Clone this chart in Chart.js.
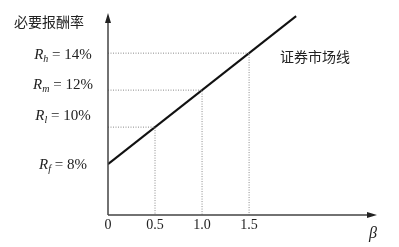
<!DOCTYPE html>
<html lang="zh">
<head>
<meta charset="UTF-8">
<title>证券市场线</title>
<script src="https://cdn.jsdelivr.net/npm/chart.js@4/dist/chart.umd.min.js"></script>
<style>
  body { margin: 0; background: #fff; }
  #caixa { width: 399px; height: 247px; }
</style>
</head>
<body>
<div id="caixa"><canvas id="grafico"></canvas></div>
<script>
// dados
const betas = [0.5, 1.0, 1.5];
const retornos = [10, 12, 14];
const linhaBeta = [0, 2];
const linhaRetorno = [8, 16];
const xTicks = [0, 0.5, 1.0, 1.5];
const xTickLabels = ['0', '0.5', '1.0', '1.5'];
const yLabelValores = [14, 12, 10, 8];
const yLabelSub = ['h', 'm', 'l', 'f'];
const yLabelTexto = ['= 14%', '= 12%', '= 10%', '= 8%'];

const X_MIN = 0, X_MAX = 2.86, Y_MIN = 5.25, Y_MAX = 16.17;
const serif = '"Liberation Serif", "Times New Roman", serif';
const cjk = '"Noto Sans CJK SC", sans-serif';

// guias pontilhadas: do eixo y ate a linha e da linha ate o eixo x
const guias = betas.map(function (b, i) {
    return {
        data: [{ x: 0, y: retornos[i] }, { x: b, y: retornos[i] }, { x: b, y: Y_MIN }],
        borderColor: '#8a8a8a',
        borderWidth: 1,
        borderDash: [1, 1.5],
        pointRadius: 0,
        fill: false
    };
});

const sml = {
    data: linhaBeta.map(function (b, i) { return { x: b, y: linhaRetorno[i] }; }),
    borderColor: '#111',
    borderWidth: 2,
    pointRadius: 0,
    fill: false
};

const desenhoEixos = {
    id: 'desenhoEixos',
    afterDatasetsDraw(chart) {
        const ctx = chart.ctx;
        const xs = chart.scales.x, ys = chart.scales.y;
        const x0 = xs.getPixelForValue(0), y0 = ys.getPixelForValue(Y_MIN);
        const xEnd = xs.getPixelForValue(X_MAX), yEnd = ys.getPixelForValue(Y_MAX);
        ctx.save();
        ctx.strokeStyle = '#444';
        ctx.fillStyle = '#222';
        ctx.lineWidth = 1.5;
        ctx.beginPath();
        ctx.moveTo(x0, y0); ctx.lineTo(x0, yEnd + 6);
        ctx.moveTo(x0, y0); ctx.lineTo(xEnd - 6, y0);
        ctx.stroke();
        // setas
        ctx.beginPath();
        ctx.moveTo(x0, yEnd); ctx.lineTo(x0 - 3, yEnd + 10); ctx.lineTo(x0 + 3, yEnd + 10); ctx.closePath();
        ctx.moveTo(xEnd, y0); ctx.lineTo(xEnd - 10, y0 - 3); ctx.lineTo(xEnd - 10, y0 + 3); ctx.closePath();
        ctx.fill();

        // rotulos do eixo x
        ctx.fillStyle = '#222';
        ctx.font = '14px ' + serif;
        ctx.textAlign = 'center';
        ctx.textBaseline = 'middle';
        xTicks.forEach(function (v, i) {
            ctx.fillText(xTickLabels[i], xs.getPixelForValue(v), y0 + 10);
        });
        ctx.font = 'italic 16px ' + serif;
        ctx.fillText('β', xEnd - 4, y0 + 19);

        // rotulos do eixo y (R com subscrito)
        const ajuste = [2, -5, -11, 1];
        yLabelValores.forEach(function (v, i) {
            const yc = ys.getPixelForValue(v) + ajuste[i];
            ctx.font = 'italic 15px ' + serif;
            const wR = ctx.measureText('R').width;
            ctx.font = 'italic 10px ' + serif;
            const wS = ctx.measureText(yLabelSub[i]).width;
            ctx.font = '15px ' + serif;
            const wT = ctx.measureText(' ' + yLabelTexto[i]).width;
            let x = 63 - (wR + wS + wT) / 2;
            ctx.textAlign = 'left';
            ctx.font = 'italic 15px ' + serif;
            ctx.fillText('R', x, yc);
            x += wR;
            ctx.font = 'italic 10px ' + serif;
            ctx.fillText(yLabelSub[i], x, yc + 4);
            x += wS;
            ctx.font = '15px ' + serif;
            ctx.fillText(' ' + yLabelTexto[i], x, yc);
        });

        ctx.font = '14px ' + cjk;
        ctx.textAlign = 'left';
        ctx.fillText('必要报酬率', 14, 22);
        ctx.fillText('证券市场线', 280, 57);
        ctx.restore();
    }
};

new Chart(document.getElementById('grafico'), {
    type: 'line',
    data: { datasets: guias.concat([sml]) },
    options: {
        responsive: true,
        maintainAspectRatio: false,
        animation: false,
        layout: { padding: { left: 108, right: 22, top: 13, bottom: 32 } },
        plugins: { legend: { display: false }, tooltip: { enabled: false } },
        scales: {
            x: { type: 'linear', min: X_MIN, max: X_MAX, display: false },
            y: { type: 'linear', min: Y_MIN, max: Y_MAX, display: false }
        }
    },
    plugins: [desenhoEixos]
});
</script>
</body>
</html>
